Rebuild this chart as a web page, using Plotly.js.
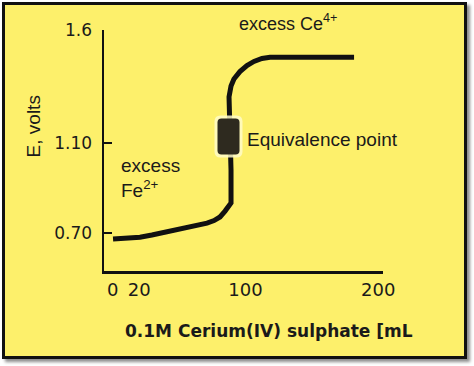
<!DOCTYPE html>
<html>
<head>
<meta charset="utf-8">
<script src="https://cdn.plot.ly/plotly-3.0.1.min.js"></script>
<style>
  html, body { margin: 0; padding: 0; background: #ffffff; }
  #frame {
    position: absolute; left: 2px; top: 2px; width: 459px; height: 351px;
    background: #fdf06b; border: 3px solid #111;
    box-shadow: 3px 3px 3px rgba(0,0,0,0.45);
  }
  #chart { position: absolute; left: 0; top: 0; width: 474px; height: 366px; }
</style>
</head>
<body>
<div id="frame"></div>
<div id="chart"></div>
<script>
// Titration curve: volume of Ce(IV) (mL) vs E (volts)
const volume = [0.2, 9.2, 20.5, 29.5, 37.8, 48.4, 58.2, 65.7, 71.0, 76.3, 80.8, 84.6, 87.6, 89.1, 89.1, 88.3, 87.6, 89.1, 91.3, 95.8, 101.1, 106.4, 112.4, 118.5, 181.8];
const potential = [0.676, 0.678, 0.683, 0.693, 0.703, 0.718, 0.729, 0.738, 0.746, 0.757, 0.773, 0.799, 0.822, 0.835, 0.981, 1.158, 1.304, 1.352, 1.383, 1.416, 1.443, 1.461, 1.474, 1.479, 1.479];

// Equivalence point
const eqVolume = [87.2];
const eqPotential = [1.129];

// Axis ticks
const xTickVals = [0, 20, 100, 200];
const xTickText = ["0", "20", "100", "200"];
const yTickVals = [0.70, 1.10, 1.6];
const yTickText = ["0.70", "1.10", "1.6"];

const txt = '#1a1a1a';

const trace = {
  x: volume, y: potential, type: 'scatter', mode: 'lines',
  line: { color: '#111', width: 5, shape: 'linear' },
  hoverinfo: 'skip'
};

function roundRect(w, h, r) {
  const x0 = -w/2, x1 = w/2, y0 = -h/2, y1 = h/2;
  return `M${x0+r},${y0} L${x1-r},${y0} Q${x1},${y0} ${x1},${y0+r} L${x1},${y1-r} Q${x1},${y1} ${x1-r},${y1} L${x0+r},${y1} Q${x0},${y1} ${x0},${y1-r} L${x0},${y0+r} Q${x0},${y0} ${x0+r},${y0} Z`;
}

const shapes = [
  { type: 'path', xref: 'x', yref: 'y', xsizemode: 'pixel', ysizemode: 'pixel',
    xanchor: eqVolume[0], yanchor: eqPotential[0], path: roundRect(28, 42, 6),
    fillcolor: 'rgba(255,252,200,0.85)', line: { width: 0 }, layer: 'above' },
  { type: 'path', xref: 'x', yref: 'y', xsizemode: 'pixel', ysizemode: 'pixel',
    xanchor: eqVolume[0], yanchor: eqPotential[0], path: roundRect(22, 36, 4),
    fillcolor: '#2e2a1f', line: { width: 0 }, layer: 'above' }
];

const annotations = [
  { text: 'E, volts', xref: 'paper', yref: 'paper', x: -0.2545, y: 0.60, textangle: -90,
    showarrow: false, xanchor: 'center', yanchor: 'middle',
    font: { family: 'Liberation Sans, Arial', size: 19, color: txt } },
  { text: '<b>0.1M Cerium(IV) sulphate [mL</b>', xref: 'paper', yref: 'paper', x: 0.5914, y: -0.249,
    showarrow: false, xanchor: 'center', yanchor: 'middle',
    font: { family: 'DejaVu Sans', size: 17, color: txt } },
  { text: 'excess Ce<sup>4+</sup>', xref: 'paper', yref: 'paper', x: 0.4767, y: 1.033,
    showarrow: false, xanchor: 'left', yanchor: 'middle',
    font: { family: 'Liberation Sans, Arial', size: 18, color: txt } },
  { text: 'excess<br>Fe<sup>2+</sup>', xref: 'paper', yref: 'paper', x: 0.0538, y: 0.384,
    showarrow: false, xanchor: 'left', yanchor: 'middle', align: 'left',
    font: { family: 'Liberation Sans, Arial', size: 19, color: txt } },
  { text: 'Equivalence point', xref: 'paper', yref: 'paper', x: 0.505, y: 0.5436,
    showarrow: false, xanchor: 'left', yanchor: 'middle',
    font: { family: 'Liberation Sans, Arial', size: 19, color: txt } }
];

const layout = {
  width: 474, height: 366,
  margin: { l: 104, r: 91, t: 30, b: 95 },
  paper_bgcolor: 'rgba(0,0,0,0)', plot_bgcolor: 'rgba(0,0,0,0)',
  showlegend: false,
  xaxis: {
    range: [-6.6, 203.6], showgrid: false, zeroline: false,
    showline: true, linecolor: '#111', linewidth: 2.5,
    tickmode: 'array', tickvals: xTickVals, ticktext: xTickText,
    ticks: '', ticklabelstandoff: 1,
    tickfont: { family: 'DejaVu Sans', size: 18, color: txt }
  },
  yaxis: {
    range: [0.534, 1.60], showgrid: false, zeroline: false,
    showline: true, linecolor: '#111', linewidth: 2.5,
    tickmode: 'array', tickvals: yTickVals, ticktext: yTickText,
    ticks: 'inside', ticklen: 8, tickwidth: 2, tickcolor: '#111', ticklabelstandoff: 6,
    tickfont: { family: 'DejaVu Sans', size: 17, color: txt }
  },
  shapes: shapes,
  annotations: annotations
};

Plotly.newPlot('chart', [trace], layout, { displayModeBar: false, staticPlot: true });
</script>
</body>
</html>
